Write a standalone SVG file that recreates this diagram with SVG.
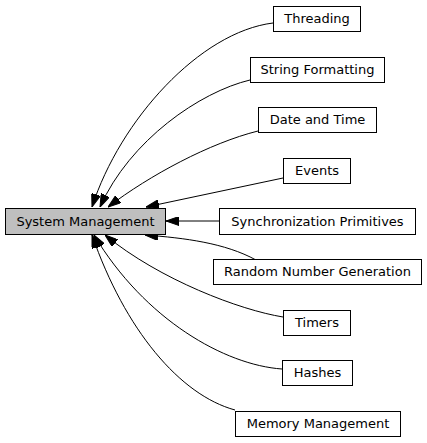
<svg xmlns="http://www.w3.org/2000/svg" width="427" height="443" viewBox="0 0 427 443">
<style>
.box{fill:#ffffff;stroke:#000000;stroke-width:1}
.main{fill:#bfbfbf;stroke:#000000;stroke-width:1}
.lbl{font-family:"DejaVu Sans",sans-serif;font-size:13px;fill:#000000;text-anchor:middle}
.edge{fill:none;stroke:#000000;stroke-width:1;marker-end:url(#ah)}
</style>
<defs>
<marker id="ah" viewBox="0 0 13 9" markerWidth="13" markerHeight="9" refX="13" refY="4.5" orient="auto" markerUnits="userSpaceOnUse">
<path d="M0,0 L13,4.5 L0,9 z" fill="#000000" stroke="#000000" stroke-width="1"/>
</marker>
</defs>
<rect width="427" height="443" fill="#ffffff"/>
<g id="edges">
<path class="edge" d="M273,23 C200,32 120,120 92,207"/>
<path class="edge" d="M250,80 C200,92 130,140 100,207"/>
<path class="edge" d="M258,131 C210,143 150,175 108,207"/>
<path class="edge" d="M283,178 L146,207"/>
<path class="edge" d="M219,221 L166,221"/>
<path class="edge" d="M256,260 C225,243 185,238 145,235"/>
<path class="edge" d="M283,317 C240,310 160,280 105,235"/>
<path class="edge" d="M282,369 C225,365 145,320 94,235"/>
<path class="edge" d="M235,410 C180,395 125,330 92,235"/>
</g>
<g id="system_management"><rect class="main" x="5.5" y="208.5" width="160" height="26"/><text class="lbl" x="85.5" y="226">System Management</text></g>
<g id="threading"><rect class="box" x="273.5" y="6.5" width="87" height="25"/><text class="lbl" x="317" y="23">Threading</text></g>
<g id="string_formatting"><rect class="box" x="250.5" y="57.5" width="134" height="25"/><text class="lbl" x="317.5" y="74">String Formatting</text></g>
<g id="date_and_time"><rect class="box" x="258.5" y="107.5" width="118" height="25"/><text class="lbl" x="317.5" y="124">Date and Time</text></g>
<g id="events"><rect class="box" x="283.5" y="158.5" width="67" height="25"/><text class="lbl" x="317" y="175">Events</text></g>
<g id="synchronization_primitives"><rect class="box" x="219.5" y="208.5" width="196" height="26"/><text class="lbl" x="317.5" y="226">Synchronization Primitives</text></g>
<g id="random_number_generation"><rect class="box" x="213.5" y="259.5" width="208" height="25"/><text class="lbl" x="317.5" y="276">Random Number Generation</text></g>
<g id="timers"><rect class="box" x="283.5" y="310.5" width="67" height="25"/><text class="lbl" x="317" y="327">Timers</text></g>
<g id="hashes"><rect class="box" x="282.5" y="360.5" width="70" height="25"/><text class="lbl" x="317.5" y="377">Hashes</text></g>
<g id="memory_management"><rect class="box" x="235.5" y="411.5" width="165" height="25"/><text class="lbl" x="318" y="428">Memory Management</text></g>
</svg>
